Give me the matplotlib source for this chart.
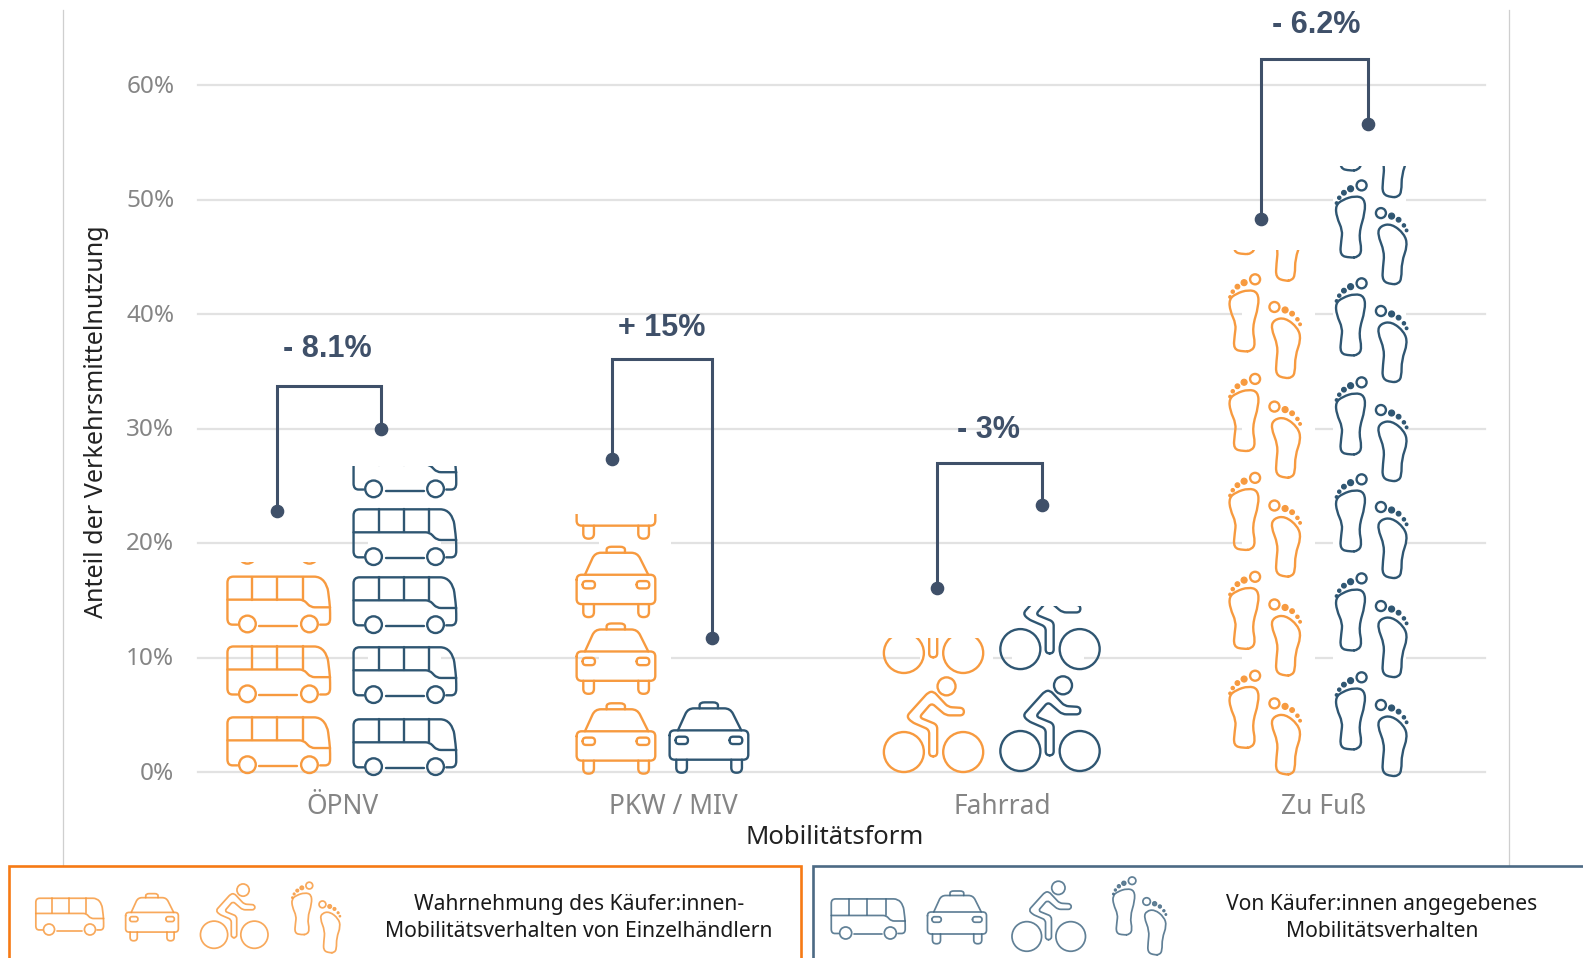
import numpy as np
import matplotlib
matplotlib.use("Agg")
import matplotlib.pyplot as plt
from matplotlib.path import Path
from matplotlib.patches import PathPatch, Rectangle
from matplotlib.lines import Line2D
from matplotlib.transforms import Affine2D, ScaledTranslation

# ---------- data ----------
categories = ["ÖPNV", "PKW / MIV", "Fahrrad", "Zu Fuß"]
kinds = ["bus", "car", "bike", "foot"]
perceived_dot = [22.8, 27.3, 16.1, 48.3]
stated_dot = [30.0, 11.7, 23.3, 56.6]
bracket_top = [33.7, 36.1, 27.0, 62.3]
delta_labels = ["- 8.1%", "+ 15%", "- 3%", "- 6.2%"]
perceived_bar = [0.0, 22.5, 11.7, 45.6]
stated_bar = [26.7, 6.2, 14.5, 52.9]
perceived_icon_top = [18.3, 22.5, 11.7, 45.6]
stated_icon_top = [26.7, 8.0, 14.5, 52.9]
perceived_icon_base = [[-0.09, 6.1, 12.2, 18.2], [-0.17, 6.8, 13.5, 20.35],
                       [-0.09, 8.56], [-0.12, 8.52, 17.16, 25.8, 34.5, 43.0]]
stated_icon_base = [[-0.26, 6.03, 12.14, 18.08, 24.0], [-0.09],
                    [0.0, 8.9], [-0.26, 8.38, 17.03, 25.5, 34.15, 42.7, 50.3]]
y_ticks = [0, 10, 20, 30, 40, 50, 60]
legend_perceived = "Wahrnehmung des Käufer:innen-\nMobilitätsverhalten von Einzelhändlern"
legend_stated = "Von Käufer:innen angegebenes\nMobilitätsverhalten"
x_label = "Mobilitätsform"
y_label = "Anteil der Verkehrsmittelnutzung"

# ---------- layout / style ----------
W, H = 1583, 958
AX_L, AX_R, AX_BOTTOM = 198, 1485, 772
PX_PER_PCT = 11.45
ORANGE, BLUE = "#F79A3F", "#2F5672"
DARK = "#3F5069"
BAR_OFF, BAR_W = 0.142, 0.226
tick_pos = [-0.052, 0.976, 2.0, 2.998]
orange_icon_off = [-0.250, -0.201, -0.215, -0.184]
blue_icon_off = [0.142, 0.088, 0.147, 0.147]
bracket_l = [-0.256, -0.213, -0.203, -0.196]
bracket_r = [0.070, 0.097, 0.123, 0.136]
label_x = [-0.099, 0.942, 1.958, 2.976]
label_y = [36.9, 38.75, 29.9, 65.25]
FONT = "Noto Sans"

plt.rcParams["font.family"] = [FONT, "DejaVu Sans"]
fig = plt.figure(figsize=(W / 100, H / 100), dpi=100, facecolor="white")
ax = fig.add_axes([AX_L / W, 1 - AX_BOTTOM / H, (AX_R - AX_L) / W, AX_BOTTOM / H])
ax.set_xlim(-0.5, 3.5)
ax.set_ylim(0, AX_BOTTOM / PX_PER_PCT)
ax.patch.set_alpha(0)
for s in ax.spines.values():
    s.set_visible(False)


# ---------- icon geometry (local pixel units, y up, origin bottom centre) ----------
def Z(points, cx, by):
    p = np.array(points, float)
    return np.c_[(p[:, 0] - cx) / 3, (by - p[:, 1]) / 3]


def rounded(pts, r, closed=False):
    pts = np.asarray(pts, float)
    n = len(pts)
    verts, codes = [], []
    idx = range(n) if closed else range(1, n - 1)

    def corner(i):
        a, b, c = pts[(i - 1) % n], pts[i], pts[(i + 1) % n]
        u, v = a - b, c - b
        ru = min(r, np.hypot(*u) / 2)
        rv = min(r, np.hypot(*v) / 2)
        return b + u / np.hypot(*u) * ru, b, b + v / np.hypot(*v) * rv

    first = True
    if not closed:
        verts.append(pts[0]); codes.append(Path.MOVETO)
        first = False
    for i in idx:
        p0, b, p1 = corner(i)
        verts.append(p0); codes.append(Path.MOVETO if first else Path.LINETO)
        first = False
        verts += [b, p1]; codes += [Path.CURVE3, Path.CURVE3]
    if closed:
        verts.append(verts[0]); codes.append(Path.LINETO)
    else:
        verts.append(pts[-1]); codes.append(Path.LINETO)
    return Path(np.array(verts), codes)


def smooth(pts):
    pts = np.asarray(pts, float)
    n = len(pts)
    mids = (pts + np.roll(pts, -1, axis=0)) / 2
    verts = [mids[-1]]
    codes = [Path.MOVETO]
    for i in range(n):
        verts += [pts[i], mids[i]]
        codes += [Path.CURVE3, Path.CURVE3]
    return Path(np.array(verts), codes)


def circ(zx, zy, zr, cx, by):
    c = Z([(zx, zy)], cx, by)[0]
    return Path.circle(tuple(c), zr / 3)


def icon_parts(kind):
    """returns (stroke paths, filled paths)"""
    if kind == "bus":
        c, b = 615, 1005
        z = lambda p: Z(p, c, b)
        stroke = [
            rounded(z([(492, 982), (462, 982), (462, 838), (740, 838), (762, 865), (770, 930),
                       (770, 982), (740, 982)]), 6),
            rounded(z([(462, 907), (690, 907), (712, 930), (770, 930)]), 4),
            Path(z([(537, 838), (537, 907)])), Path(z([(612, 838), (612, 907)])),
            rounded(z([(688, 838), (688, 907)]), 1),
            Path(z([(558, 985), (672, 985)])),
            circ(522, 980, 25, c, b), circ(708, 980, 25, c, b),
        ]
        return stroke, []
    if kind == "car":
        c, b = 448, 818
        z = lambda p: Z(p, c, b)
        stroke = [
            rounded(z([(330, 690), (566, 690), (566, 778), (330, 778)]), 5, closed=True),
            rounded(z([(355, 690), (385, 624), (512, 624), (545, 690)]), 6),
            rounded(z([(420, 624), (420, 606), (475, 606), (475, 624)]), 5),
            rounded(z([(348, 709), (385, 709), (385, 731), (348, 731)]), 3.5, closed=True),
            rounded(z([(510, 709), (548, 709), (548, 731), (510, 731)]), 3.5, closed=True),
            rounded(z([(350, 778), (350, 817), (382, 817), (382, 778)]), 5),
            rounded(z([(515, 778), (515, 817), (547, 817), (547, 778)]), 5),
        ]
        return stroke, []
    if kind == "bike":
        c, b = 540, 545
        z = lambda p: Z(p, c, b)
        body = [(528, 495), (528, 415), (475, 392), (460, 375), (525, 303), (541, 300), (585, 347),
                (632, 350), (632, 372), (578, 372), (535, 335), (498, 378), (552, 400), (552, 495)]
        stroke = [rounded(z(body), 4, closed=True),
                  circ(452, 482, 60, c, b), circ(630, 482, 60, c, b), circ(580, 285, 27, c, b)]
        return stroke, []
    # foot pair
    c, b = 484.5, 398
    z = lambda p: Z(p, c, b)
    left = [(420, 322), (390, 315), (394, 270), (398, 240), (380, 200), (377, 165), (398, 148),
            (435, 136), (464, 144), (466, 185), (446, 250), (456, 300), (445, 320)]
    right = [(545, 402), (517, 392), (519, 350), (524, 305), (502, 250), (512, 226), (545, 220),
             (583, 250), (593, 285), (575, 335), (575, 385), (565, 400)]
    stroke = [smooth(z(left)), smooth(z(right)), circ(455, 105, 15, c, b), circ(513, 188, 15, c, b)]
    fill = [circ(422, 115, 9, c, b), circ(402, 127, 7, c, b), circ(388, 142, 5, c, b), circ(380, 158, 4, c, b),
            circ(545, 197, 9, c, b), circ(566, 208, 7, c, b), circ(582, 225, 5, c, b), circ(590, 240, 4, c, b)]
    return stroke, fill


def draw_icon(kind, cx, by, color, scale=1.0, lw=1.7, clip=None, alpha=1.0, target=None):
    tr = Affine2D().scale(scale).translate(cx, by)
    strokes, fills = icon_parts(kind)
    for p, filled in [(q, False) for q in strokes] + [(q, True) for q in fills]:
        patch = PathPatch(p, transform=tr, facecolor=color if filled else "none",
                          edgecolor=color, lw=lw * (0.5 if filled else 1), alpha=alpha,
                          capstyle="round", joinstyle="round", zorder=3)
        if clip is not None:
            patch.set_clip_path(clip, ax.transData)
        if target is None:
            fig.add_artist(patch)
        else:
            target.add_artist(patch)


# ---------- axes content ----------
xs = np.arange(len(categories))
ax.set_yticks(y_ticks)
ax.set_yticklabels([f"{v}%" for v in y_ticks], color="#858585", fontsize=17.5)
ax.set_xticks(tick_pos)
ax.set_xticklabels(categories, color="#858585", fontsize=19)
ax.tick_params(length=0, axis="y", pad=17)
ax.tick_params(length=0, axis="x", pad=15)
up = ScaledTranslation(0, 1.5 / 72, fig.dpi_scale_trans)
for lab in ax.get_yticklabels():
    lab.set_transform(lab.get_transform() + ScaledTranslation(0, 1.5 / 100, fig.dpi_scale_trans))
ax.set_axisbelow(True)
ax.yaxis.grid(True, color="#E2E2E2", lw=1.6, clip_on=False)
ax.xaxis.grid(False)

ax.bar(xs - BAR_OFF, np.maximum(np.array(perceived_bar) - 0.2, 0), BAR_W, bottom=0.2, color="white", zorder=1)
ax.bar(xs + BAR_OFF, np.array(stated_bar) - 0.2, BAR_W, bottom=0.2, color="white", zorder=1)

for i, kind in enumerate(kinds):
    for offs, bases, tops, col in [(orange_icon_off, perceived_icon_base, perceived_icon_top, ORANGE),
                                   (blue_icon_off, stated_icon_base, stated_icon_top, BLUE)]:
        x = i + offs[i]
        x0, x1, y0, y1 = x - 0.25, x + 0.25, -1.0, tops[i]
        clip = Path([(x0, y0), (x1, y0), (x1, y1), (x0, y1), (x0, y0)])
        for b in bases[i]:
            cx, by = ax.transData.transform((x, b))
            draw_icon(kind, cx, by, col, clip=clip, target=ax)

    xl, xr = i + bracket_l[i], i + bracket_r[i]
    ax.plot([xl, xl, xr, xr], [perceived_dot[i], bracket_top[i], bracket_top[i], stated_dot[i]],
            color=DARK, lw=2.2, zorder=4, solid_joinstyle="miter", clip_on=False)
    ax.plot([xl, xr], [perceived_dot[i], stated_dot[i]], ls="none", marker="o", ms=8.8,
            mfc=DARK, mec=DARK, zorder=5, clip_on=False)
    ax.text(label_x[i], label_y[i], delta_labels[i], ha="center", va="center",
            family=["Liberation Sans"], weight="bold", fontsize=22, color=DARK, zorder=6)

fig.text(97 / W, 1 - 422 / H, y_label, rotation=90, ha="center", va="center", fontsize=18.1, color="#222222")
fig.text(835 / W, 1 - 837 / H, x_label, ha="center", va="center", fontsize=18.5, color="#222222")

# ---------- frame lines ----------
for px in (62.5, 1508.5):
    fig.add_artist(Line2D([px / W, px / W], [1 - 10 / H, 1 - 866 / H], color="#CFCFCF", lw=0.9, zorder=0))

# ---------- legend boxes ----------
fig.add_artist(Rectangle((9 / W, -0.02), 792 / W, 1 - 866 / H + 0.02, facecolor="white",
                         edgecolor="#F67A14", lw=1.9, transform=fig.transFigure, zorder=2))
fig.add_artist(Rectangle((813 / W, -0.02), 800 / W, 1 - 866 / H + 0.02, facecolor="white",
                         edgecolor="#4C6A84", lw=1.9, transform=fig.transFigure, zorder=2))

# icon centre x, base y (image px), scale
leg_o = [("bus", 69.5, 935, 0.66), ("car", 152, 941, 0.67), ("bike", 234, 949, 0.68), ("foot", 316, 952, 0.68)]
leg_b = [("bus", 868, 939, 0.72), ("car", 957, 944, 0.75), ("bike", 1048.5, 952, 0.74), ("foot", 1139.5, 954, 0.75)]
for row, col in [(leg_o, ORANGE), (leg_b, "#456A84")]:
    for k, cx, by, sc in row:
        draw_icon(k, cx, H - by, col, scale=sc, lw=1.25, alpha=0.85)

fig.text(579 / W, 1 - 918 / H, legend_perceived, ha="center", va="center", fontsize=15.2, color="#1A1A1A",
         linespacing=1.35, zorder=5)
fig.text(1382 / W, 1 - 918 / H, legend_stated, ha="center", va="center", fontsize=15.2, color="#1A1A1A",
         linespacing=1.35, zorder=5)

fig.savefig("out.png", dpi=100, facecolor="white")
